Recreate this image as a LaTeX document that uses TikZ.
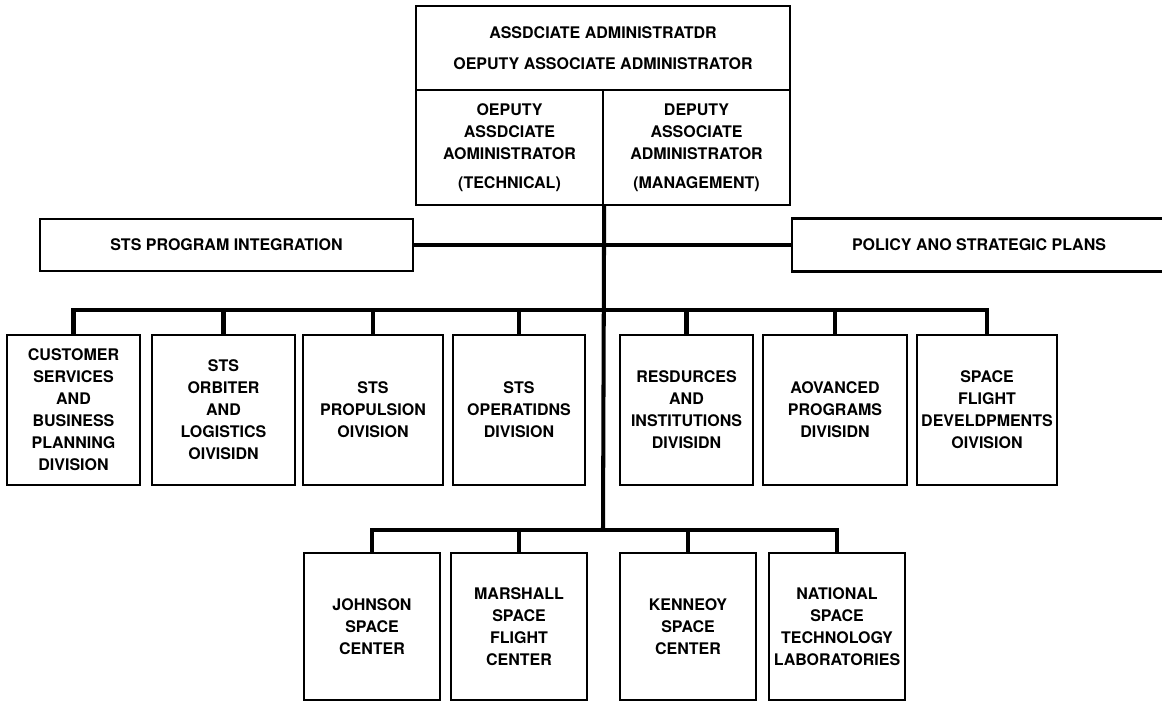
\documentclass[tikz,border=0pt]{standalone}
\usepackage{fontspec}
\setmainfont{TeX Gyre Heros}
\usepackage{tikz}
\usetikzlibrary{positioning,calc}

\begin{document}
\begin{tikzpicture}[x=0.2mm,y=-0.2mm,
    box/.style={draw,line width=1.3pt,align=center,inner sep=0pt,
      font=\fontsize{9.1}{12.5}\selectfont\bfseries},
    divbox/.style={box,minimum height=30mm},
    ctrbox/.style={box,minimum width=27.2mm,minimum height=29.4mm},
    bar/.style={line width=2.8pt},
    spine/.style={line width=2.3pt}]
  \useasboundingbox (0,0) rectangle (1162,704);

  \node[box,minimum width=74.8mm,minimum height=16.8mm] (aa) at (603,48)
    {ASSDCIATE ADMINISTRATDR\\[5.5pt]OEPUTY ASSOCIATE ADMINISTRATOR};
  \node[box,minimum width=37.4mm,minimum height=23mm] (dt) at (509.5,147.5)
    {OEPUTY\\ASSDCIATE\\AOMINISTRATOR\\[4pt](TECHNICAL)};
  \node[box,minimum width=37.4mm,minimum height=23mm] (dm) at (696.5,147.5)
    {DEPUTY\\ASSOCIATE\\ADMINISTRATOR\\[4pt](MANAGEMENT)};

  \node[box,minimum width=74.6mm,minimum height=10.4mm] (sts) at (226.5,245)
    {STS PROGRAM INTEGRATION};
  \node[box,minimum width=74.8mm,minimum height=10.6mm] (pol) at (979,245)
    {POLICY ANO STRATEGIC PLANS};

  \foreach \n/\cx/\w/\txt in {
      d1/73.5/133/{CUSTOMER\\SERVICES\\AND\\BUSINESS\\PLANNING\\DIVISION},
      d2/223.5/143/{STS\\ORBITER\\AND\\LOGISTICS\\OIVISIDN},
      d3/373/140/{STS\\PROPULSION\\OIVISION},
      d4/519/132/{STS\\OPERATIDNS\\DIVISION},
      d5/686.5/133/{RESDURCES\\AND\\INSTITUTIONS\\DIVISIDN},
      d6/835/144/{AOVANCED\\PROGRAMS\\DIVISIDN},
      d7/987/140/{SPACE\\FLIGHT\\DEVELDPMENTS\\OIVISION}}
    \node[divbox,minimum width=\w*0.2mm] (\n) at (\cx,410) {\txt};

  \foreach \n/\cx/\txt in {
      c1/372/{JOHNSON\\SPACE\\CENTER},
      c2/519/{MARSHALL\\SPACE\\FLIGHT\\CENTER},
      c3/688/{KENNEOY\\SPACE\\CENTER},
      c4/837/{NATIONAL\\SPACE\\TECHNOLOGY\\LABORATORIES}}
    \node[ctrbox] (\n) at (\cx,626.5) {\txt};

  \coordinate (hub2) at (603,310);
  \coordinate (hub3) at (603,530);

  \draw[spine] (dt.south east) -- (hub3);
  \draw[bar] (sts) -- (pol);
  \draw[bar] (d1.north) |- (hub2) -| (d7.north);
  \foreach \n in {d2,d3,d4,d5,d6}
    \draw[bar] (\n.north) -- (\n.north |- hub2);
  \draw[bar] (c1.north) |- (hub3) -| (c4.north);
  \foreach \n in {c2,c3}
    \draw[bar] (\n.north) -- (\n.north |- hub3);
\end{tikzpicture}
\end{document}
